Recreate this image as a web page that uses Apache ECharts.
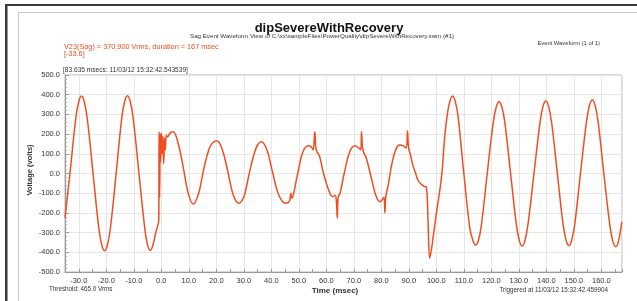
<!DOCTYPE html>
<html>
<head>
<meta charset="utf-8">
<script src="https://cdn.jsdelivr.net/npm/echarts@6/dist/echarts.min.js"></script>
<style>
	html, body { margin: 0; padding: 0; background: #fff; }
	#chart { width: 637px; height: 301px; }
</style>
</head>
<body>
<div id="chart"></div>
<script>
// waveform samples: [time (msec), voltage (volts)]
const beforeSag = [
	[-35.0, -225], [-33.2, 0], [-31.1, 278], [-30.0, 365], [-29.0, 393], [-28.0, 365], [-26.9, 278], [-24.8, 0],
	[-22.7, -278], [-21.6, -365], [-20.6, -392], [-19.6, -365], [-18.5, -278], [-16.4, 0], [-14.4, 278],
	[-13.3, 367], [-12.3, 395], [-11.3, 367], [-10.2, 278], [-8.1, 0], [-6.0, -278], [-5.0, -362],
	[-4.0, -390], [-3.0, -362], [-2.0, -300], [-0.9, -232]
];
const sag = [
	[-0.8, 212], [-0.6, -120], [-0.4, 200], [-0.2, 60], [0.0, 205], [0.3, 100], [0.6, 190],
	[0.9, 50], [1.2, 180], [1.5, 120], [1.8, 195], [2.2, 185], [3.2, 205], [4.3, 212],
	[6.2, 150], [8.0, 30], [9.8, -100], [11.6, -155], [13.6, -100], [15.4, 20], [17.5, 130],
	[19.0, 160], [20.3, 165], [22.2, 120], [24.2, 10], [26.2, -110], [28.2, -151], [29.2, -140],
	[30.3, -108], [32.3, 20], [34.5, 130], [36.4, 161], [38.4, 120], [40.4, 10], [42.6, -105],
	[45.2, -151], [46.6, -140], [47.1, -100], [47.5, -125], [48.0, -110], [49.6, 0], [51.5, 110],
	[53.4, 141], [54.5, 135], [55.2, 120], [55.8, 212], [56.2, 130], [56.6, 110], [57.5, 90],
	[59.0, 0], [61.0, -90], [62.3, -118], [63.2, -110], [63.7, -150], [64.0, -226], [64.3, -120],
	[65.0, -100], [66.5, 0], [68.5, 110], [70.4, 141], [71.8, 130], [72.5, 120], [72.8, 212],
	[73.1, 140], [73.5, 110], [74.5, 80], [76.5, -30], [78.0, -110], [79.5, -143], [80.5, -130],
	[81.0, -120], [81.3, -200], [81.6, -120], [82.5, -60], [84.0, 60], [85.5, 130], [86.7, 145],
	[88.0, 140], [89.0, 130], [89.5, 217], [89.9, 130], [90.5, 100], [91.5, 40], [92.5, 0],
	[93.3, -33], [94.5, -55], [95.5, -65], [96.4, -70]
];
const recovery = [
	[97.0, -250], [97.6, -430], [98.3, -380], [98.8, -327], [100.1, -194], [101.9, -16],
	[103.0, 180], [104.0, 300], [104.9, 365], [105.9, 393], [106.9, 365], [107.9, 290], [110.0, 0],
	[112.2, -280], [113.3, -340], [114.3, -363], [115.3, -340], [116.4, -260], [118.5, 0],
	[120.7, 260], [121.8, 338], [122.8, 364], [123.8, 338], [124.9, 260], [127.0, 0],
	[129.1, -260], [130.2, -342], [131.2, -368], [132.2, -342], [133.3, -260], [135.5, 0],
	[137.7, 260], [138.8, 342], [139.8, 368], [140.8, 342], [141.9, 260], [144.0, 0],
	[146.1, -260], [147.2, -340], [148.2, -366], [149.2, -340], [150.3, -260], [152.4, 0],
	[154.6, 265], [155.7, 347], [156.7, 373], [157.7, 347], [158.8, 265], [160.9, 0],
	[163.1, -265], [164.2, -346], [165.2, -372], [166.2, -346], [167.4, -245]
];

const timeRange = [-35, 167.5];
const voltRange = [-500, 500];

const chartTitle = "dipSevereWithRecovery";
const subTitle = "Sag Event Waveform View of C:\\xx\\sampleFiles\\PowerQuality\\dipSevereWithRecovery.swm (#1)";
const sagInfo = "V23(Sag) = 370.900 Vrms, duration = 167 msec";
const cursorInfo = "[-33.6]";
const cursorTime = "[83.635 msecs: 11/03/12 15:32:42.543539]";
const pageInfo = "Event Waveform (1 of 1)";
const thresholdInfo = "Threshold: 465.0 Vrms";
const triggerInfo = "Triggered at 11/03/12 15:32:42.459904";

const FONT = "Liberation Sans, Arial, sans-serif";
const LINE = "#ef4e21";

const chart = echarts.init(document.getElementById("chart"), null, { renderer: "canvas" });

function txt(x, y, text, style, rotation) {
	return {
		type: "text",
		x: x,
		y: y,
		rotation: rotation || 0,
		silent: true,
		style: Object.assign({ text: text, fontFamily: FONT, fontSize: 7, fill: "#222", textVerticalAlign: "middle" }, style)
	};
}

chart.setOption({
	animation: false,
	backgroundColor: "#fff",
	grid: {
		left: 65, top: 75, width: 557, height: 197,
		show: true, borderColor: "#b5b5b5", borderWidth: 1, backgroundColor: "transparent"
	},
	xAxis: {
		type: "value",
		min: timeRange[0], max: timeRange[1], interval: 5,
		axisLine: { show: true, onZero: false, lineStyle: { color: "#999" } },
		axisTick: { show: true, length: 3, inside: true, lineStyle: { color: "#999" } },
		axisLabel: {
			fontFamily: FONT, fontSize: 7.5, color: "#333", margin: 5,
			formatter: v => (Math.round(v) === v && v % 10 === 0 ? v.toFixed(1) : "")
		},
		splitLine: { show: true, lineStyle: { color: ["transparent", "#e6e6e6"], width: 1 } }
	},
	yAxis: {
		type: "value",
		min: voltRange[0], max: voltRange[1], interval: 100,
		axisLine: { show: true, onZero: false, lineStyle: { color: "#999" } },
		axisTick: { show: true, length: 4, inside: true, lineStyle: { color: "#999" } },
		minorTick: { show: true, splitNumber: 5, length: 2, lineStyle: { color: "#aaa" } },
		axisLabel: { fontFamily: FONT, fontSize: 7.5, color: "#333", margin: 5, formatter: v => v.toFixed(1) },
		splitLine: { show: true, lineStyle: { color: "#e6e6e6", width: 1 } }
	},
	series: [{
		type: "line",
		data: beforeSag.concat(sag, recovery),
		showSymbol: false,
		smooth: 0.4,
		lineStyle: { color: LINE, width: 1.5 },
		silent: true
	}],
	graphic: [
		// screenshot frame and panel
		{ type: "rect", silent: true, shape: { x: 18.5, y: 12.5, width: 640, height: 300 }, style: { fill: "none", stroke: "#c8c8c8", lineWidth: 1 } },
		{ type: "rect", silent: true, shape: { x: 5, y: 4, width: 640, height: 2 }, style: { fill: "#3a3a3a" } },
		{ type: "rect", silent: true, shape: { x: 5, y: 4, width: 2.5, height: 300 }, style: { fill: "#3a3a3a" } },
		txt(329, 28, chartTitle, { fontSize: 13, fontWeight: "bold", textAlign: "center", fill: "#111" }),
		txt(322, 36, subTitle, { fontSize: 6.2, textAlign: "center", fill: "#333" }),
		txt(64, 46.5, sagInfo, { fontSize: 7.3, fill: LINE }),
		txt(64, 53.5, cursorInfo, { fontSize: 7.3, fill: LINE }),
		txt(63, 70, cursorTime, { fontSize: 6.6, fill: "#333" }),
		txt(600, 43, pageInfo, { fontSize: 5.8, textAlign: "right", fill: "#333" }),
		txt(30, 170, "Voltage (volts)", { fontSize: 7.5, fontWeight: "bold", textAlign: "center", fill: "#333" }, Math.PI / 2),
		txt(49, 289, thresholdInfo, { fontSize: 6.3, fill: "#333" }),
		txt(335, 291, "Time (msec)", { fontSize: 8, fontWeight: "bold", textAlign: "center", fill: "#333" }),
		txt(608, 290, triggerInfo, { fontSize: 6.3, textAlign: "right", fill: "#333" })
	]
});
</script>
</body>
</html>
